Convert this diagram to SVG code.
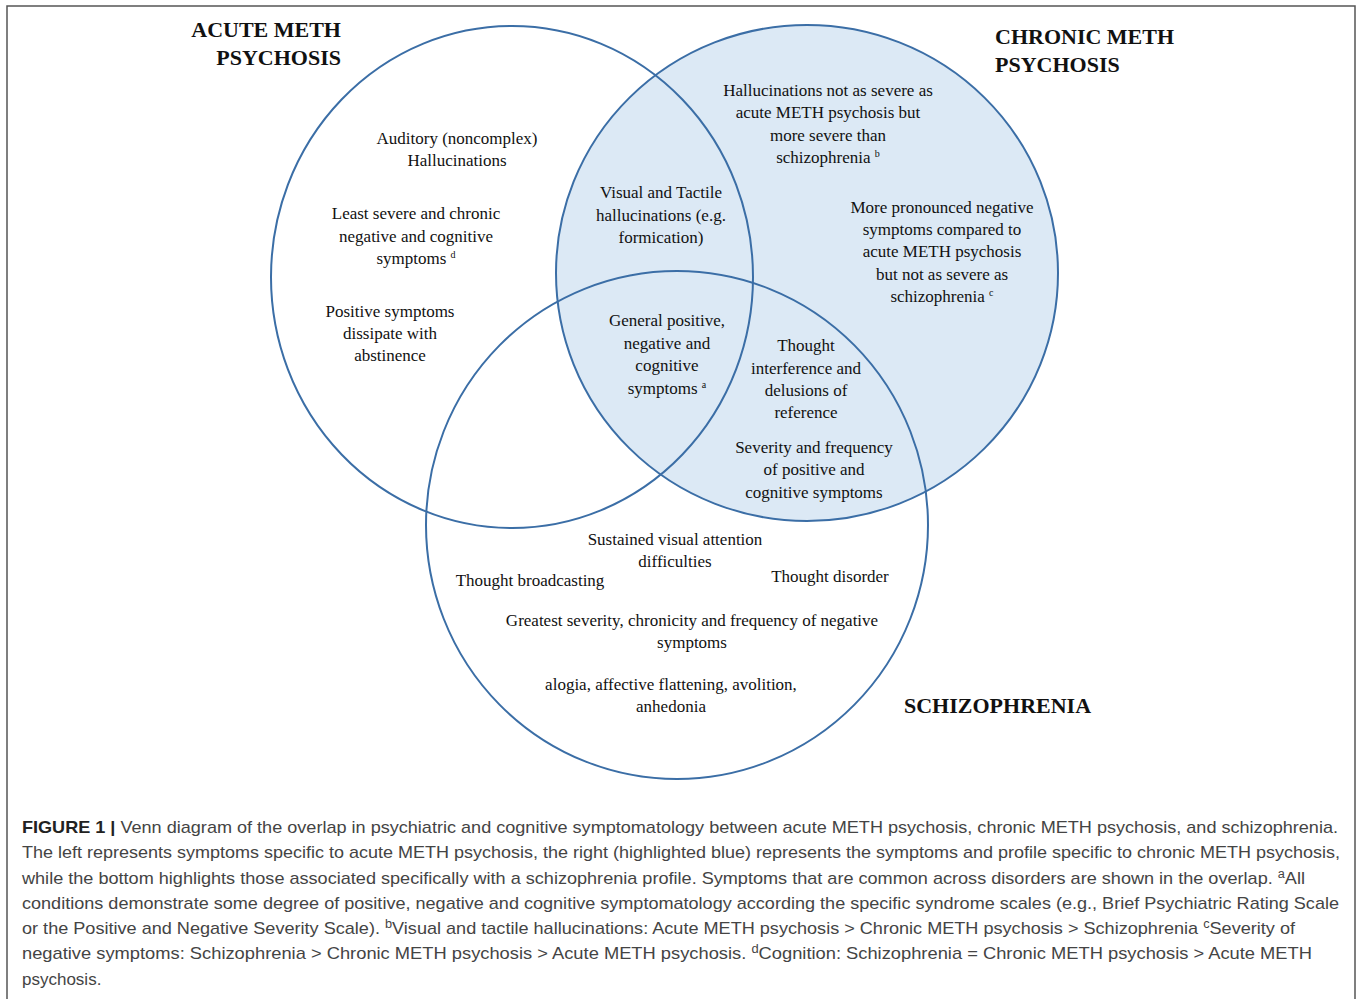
<svg xmlns="http://www.w3.org/2000/svg" width="1360" height="999" viewBox="0 0 1360 999">
<style>
.c{fill:none;stroke:#3b6ea6;stroke-width:2}
.t{font-family:"Liberation Serif","Times New Roman",serif;font-size:17px;fill:#111;text-anchor:middle}
.h{font-family:"Liberation Serif","Times New Roman",serif;font-size:22px;font-weight:bold;fill:#111}
.s{font-size:10px}
.cap{font-family:"Liberation Sans",Arial,sans-serif;font-size:17px;fill:#444}
.capb{font-weight:bold;fill:#222}
.cs{font-size:12px}
</style>
<rect x="7" y="6" width="1348" height="1010" fill="#fff" stroke="#555" stroke-width="1.5"/>
<g id="connectors"></g>
<g id="chronic">
<ellipse cx="807" cy="273" rx="251" ry="248" fill="#dce9f5" stroke="#3b6ea6" stroke-width="2"/>
<text class="h" x="995" y="44">CHRONIC METH</text>
<text class="h" x="995" y="72">PSYCHOSIS</text>
<text class="t" x="828" y="96">Hallucinations not as severe as</text>
<text class="t" x="828" y="118">acute METH psychosis but</text>
<text class="t" x="828" y="141">more severe than</text>
<text class="t" x="828" y="163">schizophrenia <tspan class="s" dy="-6">b</tspan></text>
<text class="t" x="942" y="213">More pronounced negative</text>
<text class="t" x="942" y="235">symptoms compared to</text>
<text class="t" x="942" y="257">acute METH psychosis</text>
<text class="t" x="942" y="280">but not as severe as</text>
<text class="t" x="942" y="302">schizophrenia <tspan class="s" dy="-6">c</tspan></text>
</g>
<g id="acute">
<ellipse class="c" cx="512" cy="277" rx="241" ry="251"/>
<text class="h" text-anchor="end" x="341" y="37">ACUTE METH</text>
<text class="h" text-anchor="end" x="341" y="65">PSYCHOSIS</text>
<text class="t" x="457" y="144">Auditory (noncomplex)</text>
<text class="t" x="457" y="166">Hallucinations</text>
<text class="t" x="416" y="219">Least severe and chronic</text>
<text class="t" x="416" y="242">negative and cognitive</text>
<text class="t" x="416" y="264">symptoms <tspan class="s" dy="-6">d</tspan></text>
<text class="t" x="390" y="317">Positive symptoms</text>
<text class="t" x="390" y="339">dissipate with</text>
<text class="t" x="390" y="361">abstinence</text>
</g>
<g id="schizophrenia">
<ellipse class="c" cx="677" cy="525" rx="251" ry="254"/>
<text class="h" x="904" y="713">SCHIZOPHRENIA</text>
<text class="t" x="675" y="545">Sustained visual attention</text>
<text class="t" x="675" y="567">difficulties</text>
<text class="t" x="530" y="586">Thought broadcasting</text>
<text class="t" x="830" y="582">Thought disorder</text>
<text class="t" x="692" y="626">Greatest severity, chronicity and frequency of negative</text>
<text class="t" x="692" y="648">symptoms</text>
<text class="t" x="671" y="690">alogia, affective flattening, avolition,</text>
<text class="t" x="671" y="712">anhedonia</text>
</g>
<g id="overlaps">
<text class="t" x="661" y="198">Visual and Tactile</text>
<text class="t" x="661" y="221">hallucinations (e.g.</text>
<text class="t" x="661" y="243">formication)</text>
<text class="t" x="667" y="326">General positive,</text>
<text class="t" x="667" y="349">negative and</text>
<text class="t" x="667" y="371">cognitive</text>
<text class="t" x="667" y="394">symptoms <tspan class="s" dy="-6">a</tspan></text>
<text class="t" x="806" y="351">Thought</text>
<text class="t" x="806" y="374">interference and</text>
<text class="t" x="806" y="396">delusions of</text>
<text class="t" x="806" y="418">reference</text>
<text class="t" x="814" y="453">Severity and frequency</text>
<text class="t" x="814" y="475">of positive and</text>
<text class="t" x="814" y="498">cognitive symptoms</text>
</g>
<g id="caption">
<text class="cap" x="22" y="833" textLength="1316" lengthAdjust="spacingAndGlyphs"><tspan class="capb">FIGURE 1 |</tspan> Venn diagram of the overlap in psychiatric and cognitive symptomatology between acute METH psychosis, chronic METH psychosis, and schizophrenia.</text>
<text class="cap" x="22" y="858" textLength="1318" lengthAdjust="spacingAndGlyphs">The left represents symptoms specific to acute METH psychosis, the right (highlighted blue) represents the symptoms and profile specific to chronic METH psychosis,</text>
<text class="cap" x="22" y="884" textLength="1283" lengthAdjust="spacingAndGlyphs">while the bottom highlights those associated specifically with a schizophrenia profile. Symptoms that are common across disorders are shown in the overlap. <tspan class="cs" dy="-6">a</tspan><tspan dy="6">All</tspan></text>
<text class="cap" x="22" y="909" textLength="1317" lengthAdjust="spacingAndGlyphs">conditions demonstrate some degree of positive, negative and cognitive symptomatology according the specific syndrome scales (e.g., Brief Psychiatric Rating Scale</text>
<text class="cap" x="22" y="934" textLength="1273" lengthAdjust="spacingAndGlyphs">or the Positive and Negative Severity Scale). <tspan class="cs" dy="-6">b</tspan><tspan dy="6">Visual and tactile hallucinations: Acute METH psychosis &gt; Chronic METH psychosis &gt; Schizophrenia </tspan><tspan class="cs" dy="-6">c</tspan><tspan dy="6">Severity of</tspan></text>
<text class="cap" x="22" y="959" textLength="1290" lengthAdjust="spacingAndGlyphs">negative symptoms: Schizophrenia &gt; Chronic METH psychosis &gt; Acute METH psychosis. <tspan class="cs" dy="-6">d</tspan><tspan dy="6">Cognition: Schizophrenia = Chronic METH psychosis &gt; Acute METH</tspan></text>
<text class="cap" x="22" y="985">psychosis.</text>
</g>
</svg>
